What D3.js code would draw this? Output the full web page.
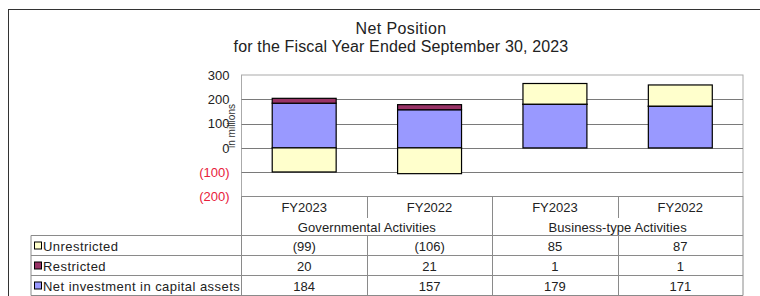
<!DOCTYPE html>
<html><head><meta charset="utf-8">
<script src="https://cdn.jsdelivr.net/npm/d3@7"></script>
<style>
body{margin:0;background:#fff;}
text{font-family:"Liberation Sans",Arial,sans-serif;}
</style></head>
<body>
<svg id="c" width="760" height="296"></svg>
<script>
const categories = ["FY2023","FY2022","FY2023","FY2022"];
const groups = ["Governmental Activities","Business-type Activities"];
const seriesNames = ["Unrestricted","Restricted","Net investment in capital assets"];
const unrestricted = [-99,-106,85,87];
const restricted = [20,21,1,1];
const netInvestment = [184,157,179,171];
const yTicks = [300,200,100,0,-100,-200];
const seriesColors = ["#FFFFCC","#993366","#9999FF"];

const svg = d3.select("#c");
const W = 760, H = 296;
svg.append("rect").attr("width",W).attr("height",H).attr("fill","#fff");
// outer frame
svg.append("rect").attr("x",8.5).attr("y",9.5).attr("width",W+10).attr("height",H+10)
  .attr("fill","none").attr("stroke","#333").attr("stroke-width",1);

// title
svg.append("text").attr("x",401).attr("y",33.5).attr("text-anchor","middle")
  .attr("font-size",16).attr("letter-spacing",0.4).attr("fill","#222").text("Net Position");
svg.append("text").attr("x",401).attr("y",51.5).attr("text-anchor","middle")
  .attr("font-size",16).attr("letter-spacing",0.15).attr("fill","#222").text("for the Fiscal Year Ended September 30, 2023");

const plotL = 241.5, plotR = 743, plotT = 75, plotB = 196.5;
const x = d3.scaleBand().domain(d3.range(categories.length)).range([plotL, plotR]).padding(0);
const y = d3.scaleLinear().domain([-200,300]).range([plotB, plotT]);

// plot border
svg.append("rect").attr("x",plotL).attr("y",plotT).attr("width",plotR-plotL).attr("height",plotB-plotT)
  .attr("fill","#fff").attr("stroke","#aaa");
// gridlines
svg.append("g").selectAll("line").data(yTicks.filter(v=>v!==300 && v!==-200)).join("line")
  .attr("x1",plotL).attr("x2",plotR).attr("y1",d=>Math.round(y(d))+0.5).attr("y2",d=>Math.round(y(d))+0.5)
  .attr("stroke","#7a7a7a").attr("stroke-width",1);

// y axis labels
const fmt = v => v<0 ? "("+Math.abs(v)+")" : String(v);
const yAxis = d3.axisLeft(y).tickValues(yTicks).tickFormat(fmt).tickSize(0).tickPadding(0);
const gy = svg.append("g").attr("transform",`translate(${plotL-12},0)`).call(yAxis);
gy.select(".domain").remove();
gy.selectAll("text").attr("font-size",13).attr("font-family","Liberation Sans, Arial, sans-serif")
  .attr("fill",d=>d<0?"#e8203a":"#222");

// in millions
svg.append("text").attr("transform",`translate(235,126) rotate(-90)`).attr("text-anchor","middle")
  .attr("font-size",10).attr("fill","#333").text("in millions");

// stacked bars
const bw = x.bandwidth()*0.51;
const bars = [];
categories.forEach((c,i)=>{
  const ni = netInvestment[i], r = restricted[i], u = unrestricted[i];
  bars.push({i, y0:0, y1:ni, s:2});
  bars.push({i, y0:ni, y1:ni+r, s:1});
  if (u<0) bars.push({i, y0:u, y1:0, s:0});
  else bars.push({i, y0:ni+r, y1:ni+r+u, s:0});
});
svg.append("g").selectAll("rect").data(bars).join("rect")
  .attr("x",d=>x(d.i)+(x.bandwidth()-bw)/2)
  .attr("y",d=>y(Math.max(d.y0,d.y1)))
  .attr("width",bw)
  .attr("height",d=>Math.abs(y(d.y0)-y(d.y1)))
  .attr("fill",d=>seriesColors[d.s])
  .attr("stroke","#000").attr("stroke-width",1.2);

// table
const tblL = 31, tblB = 295.5;
const rowTop = 235.5, rowH = 20;
const tg = svg.append("g").attr("stroke","#8a8a8a").attr("stroke-width",1);
tg.append("line").attr("x1",plotL).attr("x2",plotR).attr("y1",plotB).attr("y2",plotB);
[0,1,2,3].forEach(k=>{
  tg.append("line").attr("x1",tblL).attr("x2",plotR).attr("y1",rowTop+k*rowH).attr("y2",rowTop+k*rowH);
});
tg.append("line").attr("x1",tblL).attr("x2",tblL).attr("y1",rowTop).attr("y2",tblB);
tg.append("line").attr("x1",plotL).attr("x2",plotL).attr("y1",plotB).attr("y2",tblB);
tg.append("line").attr("x1",plotR).attr("x2",plotR).attr("y1",plotB).attr("y2",tblB);
d3.range(1,categories.length).forEach(i=>{
  const xx = Math.round(x(i))+0.5;
  const full = (i===2);
  tg.append("line").attr("x1",xx).attr("x2",xx).attr("y1",plotB).attr("y2",full?tblB:218);
  if(!full) tg.append("line").attr("x1",xx).attr("x2",xx).attr("y1",rowTop).attr("y2",tblB);
});

const tf = "#222";
svg.append("g").selectAll("text").data(categories).join("text")
  .attr("x",(d,i)=>x(i)+x.bandwidth()/2).attr("y",212).attr("text-anchor","middle")
  .attr("font-size",13).attr("fill",tf).text(d=>d);
svg.append("g").selectAll("text").data(groups).join("text")
  .attr("x",(d,i)=>x(i*2+1)).attr("y",231.5).attr("text-anchor","middle")
  .attr("font-size",13).attr("letter-spacing",0.1).attr("fill",tf).text(d=>d);

const rowsData = [unrestricted, restricted, netInvestment];
rowsData.forEach((arr,r)=>{
  const cy = rowTop + r*rowH;
  svg.append("rect").attr("x",34.5).attr("y",cy+6.5).attr("width",7).attr("height",7)
    .attr("fill",seriesColors[r]).attr("stroke","#000").attr("stroke-width",1);
  svg.append("text").attr("x",43).attr("y",cy+15).attr("font-size",13).attr("letter-spacing",0.45)
    .attr("fill",tf).text(seriesNames[r]);
  svg.append("g").selectAll("text").data(arr).join("text")
    .attr("x",(d,i)=>x(i)+x.bandwidth()/2).attr("y",cy+15).attr("text-anchor","middle")
    .attr("font-size",13).attr("fill",tf).text(d=>fmt(d));
});
</script>
</body></html>
